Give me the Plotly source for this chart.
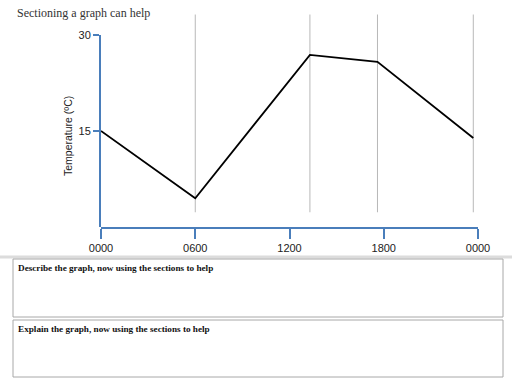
import plotly.graph_objects as go

# ---- data ----
hours = [0, 6.0, 13.3, 17.6, 23.7]
temps = [15, 4.5, 26.9, 25.8, 13.9]
section_hours = [6.0, 13.3, 17.6, 23.7]
section_span = [2.3, 33.2]
x_tick_vals = [0, 6, 12, 18, 24]
x_tick_text = ["0000", "0600", "1200", "1800", "0000"]
y_tick_vals = [15, 30]

title_text = "Sectioning a graph can help"
y_label = "Temperature (ºC)"
box_texts = ["Describe the graph, now using the sections to help",
             "Explain the graph, now using the sections to help"]

# ---- layout geometry (screen pixels) ----
W, H = 512, 384
PLOT_L, PLOT_R, PLOT_T, PLOT_B = 101, 478, 13, 227
L, R, T, B = PLOT_L, W - PLOT_R, PLOT_T, H - PLOT_B
PW, PH = PLOT_R - PLOT_L, PLOT_B - PLOT_T

def px_x(px):
    return (px - PLOT_L) / PW

def px_y(py):
    return (PLOT_B - py) / PH

BLUE = "#4a7ebb"
SANS = "Liberation Sans"
SERIF = "Liberation Serif"

fig = go.Figure()

for h in section_hours:
    fig.add_trace(go.Scatter(
        x=[h, h], y=section_span, xaxis="x", yaxis="y", mode="lines",
        line=dict(color="#b8b8b8", width=1), hoverinfo="skip", showlegend=False))

fig.add_trace(go.Scatter(
    x=hours, y=temps, xaxis="x", yaxis="y2", mode="lines",
    line=dict(color="black", width=1.8), hoverinfo="skip", showlegend=False))

shapes = [
    dict(type="line", xref="paper", yref="paper", x0=px_x(0), x1=px_x(W),
         y0=px_y(257), y1=px_y(257), line=dict(color="#dcdcdc", width=3)),
    dict(type="rect", xref="paper", yref="paper", x0=px_x(13), x1=px_x(503),
         y0=px_y(317), y1=px_y(259), line=dict(color="#a8a8a8", width=1)),
    dict(type="rect", xref="paper", yref="paper", x0=px_x(13), x1=px_x(503),
         y0=px_y(377), y1=px_y(320), line=dict(color="#a8a8a8", width=1)),
]

annotations = [
    dict(text=y_label, xref="paper", yref="paper", x=px_x(68), y=px_y(136),
         textangle=-90, showarrow=False, xanchor="center", yanchor="middle",
         font=dict(family=SANS, size=10.5, color="#222")),
    dict(text="<b>" + box_texts[0] + "</b>", xref="paper", yref="paper",
         x=px_x(16), y=px_y(268), showarrow=False, xanchor="left", yanchor="middle",
         font=dict(family=SERIF, size=9.2, color="#111")),
    dict(text="<b>" + box_texts[1] + "</b>", xref="paper", yref="paper",
         x=px_x(16), y=px_y(329), showarrow=False, xanchor="left", yanchor="middle",
         font=dict(family=SERIF, size=9.2, color="#111")),
]

fig.update_layout(
    width=W, height=H,
    margin=dict(l=L, r=R, t=T, b=B, autoexpand=False),
    paper_bgcolor="white", plot_bgcolor="rgba(0,0,0,0)",
    title=dict(text=title_text, x=17 / W, xanchor="left",
               y=1 - 13 / H, yanchor="middle",
               font=dict(family=SERIF, size=12, color="#333")),
    xaxis=dict(range=[0, 24], tickvals=x_tick_vals, ticktext=x_tick_text,
               showline=True, linecolor=BLUE, linewidth=2, ticks="outside",
               ticklen=10, tickwidth=2, tickcolor=BLUE, showgrid=False,
               zeroline=False, anchor="y", automargin=False,
               tickfont=dict(family=SANS, size=11, color="#222")),
    yaxis=dict(domain=[0, 1], range=[0, 30 * PH / 192], visible=False,
               showgrid=False, zeroline=False, automargin=False),
    yaxis2=dict(domain=[0, 192 / PH], range=[0, 30], anchor="x",
                tickvals=y_tick_vals, showline=True, linecolor=BLUE, linewidth=2,
                ticks="outside", ticklen=6, tickwidth=2, tickcolor=BLUE,
                showgrid=False, zeroline=False, automargin=False,
                tickfont=dict(family=SANS, size=11, color="#222")),
    shapes=shapes,
    annotations=annotations,
)

fig.write_html("out.html", config={"displayModeBar": False},
               post_script="document.body.style.margin='0';")
